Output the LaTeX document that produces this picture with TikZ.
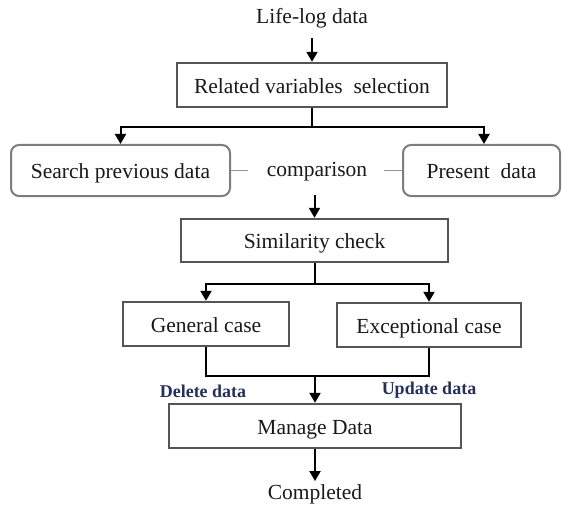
\documentclass[tikz,border=0pt]{standalone}
\usepackage{fontspec}
\setmainfont{Liberation Serif}
\usetikzlibrary{arrows.meta}
\definecolor{boxgray}{RGB}{85,85,85}
\definecolor{rgray}{RGB}{125,125,125}
\definecolor{lgray}{RGB}{150,150,150}
\definecolor{navy}{RGB}{35,48,95}
\definecolor{txt}{RGB}{25,25,25}
\begin{document}
\begin{tikzpicture}[x=1pt,y=-1pt,
  every node/.style={text=txt},
  mainfont/.style={font=\fontsize{21.5}{25}\selectfont},
  rectbox/.style={draw=boxgray, line width=2.4pt, fill=white, inner sep=0pt, text height=21.5pt, text depth=5pt, mainfont},
  roundbox/.style={draw=rgray, line width=2pt, fill=white, rounded corners=8pt, inner sep=0pt, text height=21.5pt, text depth=5pt, mainfont},
  plain/.style={inner sep=0pt, mainfont},
  lbl/.style={inner sep=0pt, text=navy, font=\fontsize{18}{21}\selectfont\bfseries},
  conn/.style={draw=black, line width=2pt},
  arr/.style={conn, -{Triangle[length=10pt,width=11pt]}},
  gline/.style={draw=lgray, line width=1.5pt}
]
\useasboundingbox (0,0) rectangle (562,508);

\node[plain] (lifelog) at (312,18) {Life-log data};
\node[rectbox, minimum width=270pt, minimum height=44pt] (related) at (312,85) {Related variables\ \ selection};
\node[roundbox, minimum width=219pt, minimum height=51pt] (search) at (120.5,170.5) {Search previous data};
\node[roundbox, minimum width=157pt, minimum height=51pt] (present) at (481.5,170.5) {Present\ \ data};
\node[plain] (comparison) at (317,172) {comparison};
\node[rectbox, minimum width=267pt, minimum height=43pt] (sim) at (314.5,240.5) {Similarity check};
\node[rectbox, minimum width=166pt, minimum height=44pt] (general) at (206,324) {General case};
\node[rectbox, minimum width=184pt, minimum height=44pt] (except) at (429,325) {Exceptional case};
\node[lbl] (delete) at (203,391) {Delete data};
\node[lbl] (update) at (429,390) {Update data};
\node[rectbox, minimum width=292pt, minimum height=44pt] (manage) at (315,426) {Manage Data};
\node[plain] (completed) at (315,494) {Completed};

\draw[arr] ([yshift=-10pt]lifelog.south) -- (related.north);
\draw[conn] (related.south) -- ++(0,19) coordinate (s1);
\draw[arr] (s1) -| (search.north);
\draw[arr] (s1) -| ([xshift=2.5pt]present.north);
\draw[gline] (search.east) -- ([xshift=-19pt]comparison.west |- search.east);
\draw[gline] ([xshift=17pt]comparison.east |- present.west) -- (present.west);
\draw[arr] ([yshift=-13pt]sim.north |- comparison.south) -- (sim.north);
\draw[conn] (sim.south) -- ++(0,21) coordinate (s2);
\draw[arr] (s2) -| (general.north);
\draw[arr] (s2) -| (except.north);
\draw[conn] (general.south) -- ++(0,29) coordinate (m1) -| (except.south);
\draw[arr] (manage.north |- m1) -- (manage.north);
\draw[arr] (manage.south) -- ([yshift=3pt]completed.north);
\end{tikzpicture}
\end{document}
